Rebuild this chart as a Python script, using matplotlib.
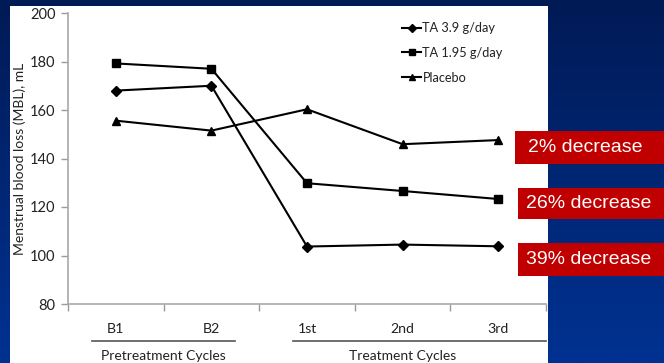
import matplotlib
matplotlib.use('Agg')
import matplotlib.pyplot as plt
import numpy as np
from matplotlib.patches import Rectangle
from matplotlib.lines import Line2D

# data
cycles = ["B1", "B2", "1st", "2nd", "3rd"]
ta_39 = [168, 170, 103.7, 104.5, 103.8]
ta_195 = [179.2, 177, 129.8, 126.6, 123.3]
placebo = [155.6, 151.5, 160.3, 145.9, 147.6]
groups = ["Pretreatment Cycles", "Treatment Cycles"]
callouts = ["2% decrease", "26% decrease", "39% decrease"]

W, H = 664, 363
fig = plt.figure(figsize=(W / 100, H / 100), dpi=100)
plt.rcParams['font.family'] = ['Lato', 'DejaVu Sans']

# blue gradient background
bg = fig.add_axes([0, 0, 1, 1], zorder=-10)
grad = np.linspace(0, 1, 256).reshape(-1, 1)
top = np.array([0x00, 0x1a, 0x55]) / 255
bot = np.array([0x00, 0x32, 0x92]) / 255
img = top + (bot - top) * grad[..., None]
bg.imshow(img, aspect='auto', extent=[0, 1, 0, 1], origin='upper')
bg.set_xlim(0, 1)
bg.set_ylim(0, 1)
bg.axis('off')

# white chart panel
bg.add_patch(Rectangle((10 / W, 0), (548 - 10) / W, (H - 6) / H,
                       facecolor='white', edgecolor='none'))

ax = fig.add_axes([68 / W, (H - 304) / H, (546 - 68) / W, (304 - 13) / H])
ax.set_facecolor('none')
x = np.arange(len(cycles))
kw = dict(color='black', lw=1.5)
ax.plot(x, ta_39, marker='D', ms=5.5, label='TA 3.9 g/day', **kw)
ax.plot(x, ta_195, marker='s', ms=6, label='TA 1.95 g/day', **kw)
ax.plot(x, placebo, marker='^', ms=6, label='Placebo', **kw)

ax.set_xlim(-0.5, 4.5)
ax.set_ylim(80, 200)
ax.set_yticks(range(80, 201, 20))
ax.set_xticks(np.arange(-0.5, 4.6, 1))
ax.set_xticklabels([])
ax.tick_params(axis='both', colors='#9a9a9a', length=5, width=1)
ax.tick_params(axis='y', labelcolor='#222222', labelsize=10.5, pad=4)
for s in ['top', 'right']:
    ax.spines[s].set_visible(False)
for s in ['left', 'bottom']:
    ax.spines[s].set_color('#a8a8a8')
    ax.spines[s].set_linewidth(1.2)
ax.set_ylabel('Menstrual blood loss (MBL), mL', fontsize=10, color='#222222', labelpad=3)

# category labels and group labels
for i, c in enumerate(cycles):
    ax.text(i, -0.085, c, transform=ax.get_xaxis_transform(), ha='center', va='center',
            fontsize=10.2, color='#222222')
ax.add_line(Line2D([-0.25, 1.25], [-0.128, -0.128], transform=ax.get_xaxis_transform(),
                   color='#555555', lw=1.2, clip_on=False))
ax.add_line(Line2D([1.85, 4.5], [-0.128, -0.128], transform=ax.get_xaxis_transform(),
                   color='#555555', lw=1.2, clip_on=False))
ax.text(0.5, -0.178, groups[0], transform=ax.get_xaxis_transform(), ha='center', va='center',
        fontsize=10, color='#222222')
ax.text(3.0, -0.178, groups[1], transform=ax.get_xaxis_transform(), ha='center', va='center',
        fontsize=10, color='#222222')

leg = ax.legend(loc='upper left', bbox_to_anchor=(402 / W, (H - 22) / H),
                bbox_transform=fig.transFigure, frameon=False, fontsize=9.2,
                borderaxespad=0, borderpad=0,
                handlelength=1.5, handletextpad=0.1, labelspacing=1.0, markerscale=0.8)
for t in leg.get_texts():
    t.set_color('#222222')

# red callout boxes
boxes = [(515, 131, 164, 528), (518, 188, 219, 526), (518, 243, 276, 526)]
for (bx, y0, y1, tx), lab in zip(boxes, callouts):
    bg.add_patch(Rectangle((bx / W, (H - y1) / H), (W - bx) / W, (y1 - y0) / H,
                           facecolor='#c00000', edgecolor='none', zorder=5))
    fig.text(tx / W, (H - (y0 + y1) / 2) / H, lab, ha='left', va='center',
             color='white', fontsize=14, family='Liberation Sans', zorder=6)

plt.savefig('out.png', dpi=100)
